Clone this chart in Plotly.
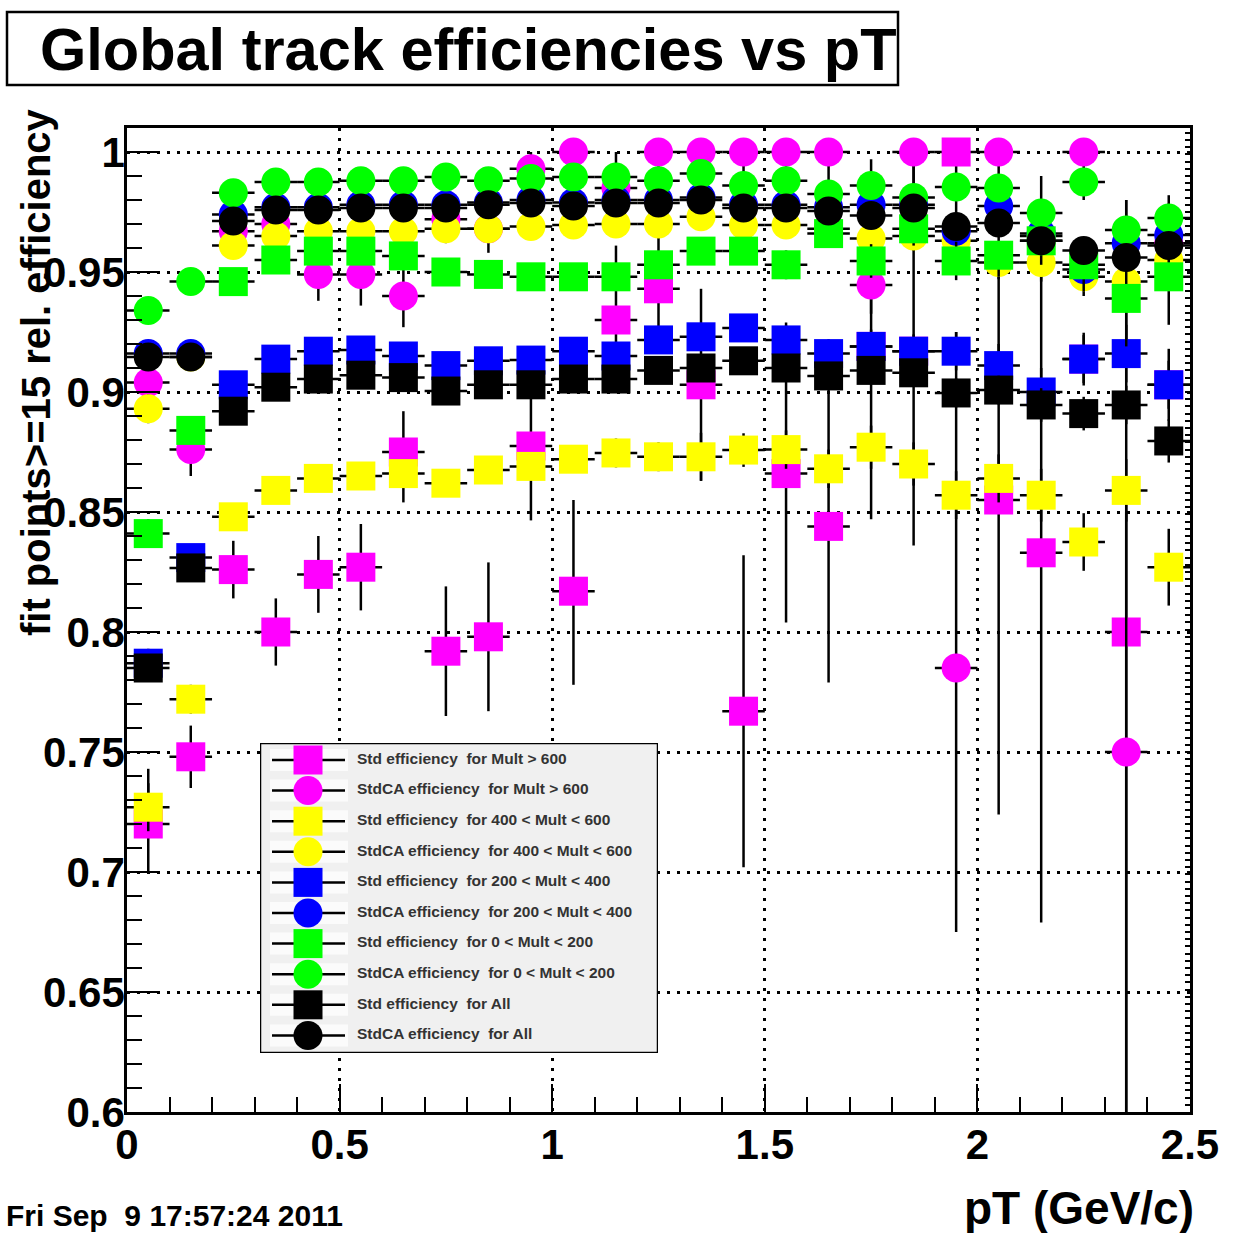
import plotly.graph_objects as go

# ---------------- data ----------------
pt = [0.05, 0.15, 0.25, 0.35, 0.45, 0.55, 0.65, 0.75, 0.85, 0.95, 1.05, 1.15, 1.25,
      1.35, 1.45, 1.55, 1.65, 1.75, 1.85, 1.95, 2.05, 2.15, 2.25, 2.35, 2.45]
pt_halfwidth = 0.05

labels = [
    "Std efficiency\u00a0 for Mult &gt; 600",
    "StdCA efficiency\u00a0 for Mult &gt; 600",
    "Std efficiency\u00a0 for 400 &lt; Mult &lt; 600",
    "StdCA efficiency\u00a0 for 400 &lt; Mult &lt; 600",
    "Std efficiency\u00a0 for 200 &lt; Mult &lt; 400",
    "StdCA efficiency\u00a0 for 200 &lt; Mult &lt; 400",
    "Std efficiency\u00a0 for 0 &lt; Mult &lt; 200",
    "StdCA efficiency\u00a0 for 0 &lt; Mult &lt; 200",
    "Std efficiency\u00a0 for All",
    "StdCA efficiency\u00a0 for All",
]

std_mult600 = [0.720, 0.748, 0.826, 0.800, 0.824, 0.827, 0.875, 0.792, 0.798, 0.8775, 0.817, 0.930, 0.943,
               0.903, 0.767, 0.866, 0.844, 0.919, 0.917, 1.000, 0.855, 0.833, 0.9137, 0.800, 0.903]
std_mult600_up = [0.023, 0.013, 0.012, 0.014, 0.016, 0.018, 0.017, 0.027, 0.031, 0.020, 0.038, 0.031, 0.022,
                  0.040, 0.065, 0.063, 0.069, 0.078, 0.081, 0.000, 0.097, 0.157, 0.010, 0.180, 0.010]
std_mult600_dn = [0.020, 0.013, 0.012, 0.014, 0.016, 0.018, 0.021, 0.027, 0.031, 0.031, 0.039, 0.025, 0.022,
                  0.040, 0.065, 0.062, 0.065, 0.072, 0.081, 0.030, 0.131, 0.154, 0.010, 0.200, 0.010]

ca_mult600 = [0.904, 0.876, 0.967, 0.970, 0.949, 0.949, 0.940, 0.972, 0.968, 0.993, 1.000, 0.985, 1.000,
              1.000, 1.000, 1.000, 1.000, 0.9446, 1.000, 0.785, 1.000, 0.965, 1.000, 0.750, 0.962]
ca_mult600_up = [0.006, 0.011, 0.010, 0.010, 0.011, 0.013, 0.013, 0.010, 0.010, 0.007, 0.000, 0.015, 0.000,
                 0.000, 0.000, 0.000, 0.000, 0.012, 0.000, 0.140, 0.000, 0.015, 0.000, 0.100, 0.015]
ca_mult600_dn = [0.006, 0.011, 0.010, 0.010, 0.011, 0.013, 0.013, 0.010, 0.010, 0.010, 0.012, 0.015, 0.012,
                 0.012, 0.012, 0.012, 0.012, 0.012, 0.015, 0.110, 0.020, 0.015, 0.020, 0.160, 0.015]

std_mult400 = [0.727, 0.772, 0.848, 0.859, 0.864, 0.865, 0.866, 0.862, 0.8675, 0.869, 0.872, 0.8746, 0.873,
               0.873, 0.8758, 0.876, 0.868, 0.877, 0.870, 0.857, 0.864, 0.857, 0.8375, 0.859, 0.827]
std_mult400_err = [0.010, 0.006, 0.005, 0.004, 0.004, 0.004, 0.004, 0.005, 0.005, 0.005, 0.005, 0.006, 0.006,
                   0.010, 0.007, 0.008, 0.008, 0.009, 0.009, 0.010, 0.010, 0.011, 0.012, 0.013, 0.016]

ca_mult400 = [0.893, 0.9146, 0.961, 0.965, 0.967, 0.967, 0.967, 0.968, 0.968, 0.969, 0.9696, 0.970, 0.970,
              0.973, 0.9696, 0.9696, 0.968, 0.964, 0.965, 0.963, 0.954, 0.954, 0.948, 0.946, 0.955]
ca_mult400_err = [0.006, 0.004, 0.003, 0.003, 0.003, 0.003, 0.003, 0.003, 0.003, 0.003, 0.003, 0.003, 0.004,
                  0.004, 0.004, 0.005, 0.005, 0.006, 0.006, 0.007, 0.007, 0.008, 0.008, 0.009, 0.010]

std_mult200 = [0.787, 0.831, 0.903, 0.9137, 0.917, 0.9175, 0.915, 0.911, 0.913, 0.9133, 0.917, 0.915, 0.9217,
               0.923, 0.9267, 0.9217, 0.916, 0.919, 0.917, 0.917, 0.911, 0.900, 0.9137, 0.916, 0.903]
std_mult200_err = [0.006, 0.004, 0.003, 0.003, 0.003, 0.003, 0.003, 0.003, 0.003, 0.003, 0.004, 0.004, 0.004,
                   0.005, 0.005, 0.006, 0.006, 0.007, 0.007, 0.008, 0.009, 0.010, 0.011, 0.012, 0.015]

ca_mult200 = [0.916, 0.916, 0.974, 0.977, 0.977, 0.978, 0.978, 0.978, 0.979, 0.980, 0.979, 0.980, 0.980,
              0.981, 0.978, 0.978, 0.977, 0.978, 0.978, 0.967, 0.9775, 0.966, 0.951, 0.962, 0.9654]
ca_mult200_err = [0.004, 0.003, 0.002, 0.002, 0.002, 0.002, 0.002, 0.002, 0.002, 0.002, 0.002, 0.002, 0.002,
                  0.003, 0.003, 0.003, 0.003, 0.004, 0.004, 0.004, 0.005, 0.005, 0.006, 0.006, 0.007]

std_mult0 = [0.841, 0.884, 0.946, 0.955, 0.9587, 0.9587, 0.9567, 0.950, 0.949, 0.948, 0.948, 0.948, 0.953,
             0.9587, 0.9587, 0.953, 0.966, 0.9546, 0.968, 0.9546, 0.957, 0.963, 0.953, 0.939, 0.948]
std_mult0_up = [0.006, 0.004, 0.003, 0.003, 0.003, 0.003, 0.003, 0.003, 0.003, 0.003, 0.004, 0.004, 0.004,
                0.005, 0.005, 0.006, 0.006, 0.007, 0.007, 0.008, 0.009, 0.010, 0.011, 0.041, 0.034]
std_mult0_dn = [0.006, 0.004, 0.003, 0.003, 0.003, 0.003, 0.003, 0.003, 0.003, 0.003, 0.004, 0.004, 0.004,
                0.005, 0.005, 0.006, 0.006, 0.007, 0.007, 0.008, 0.009, 0.010, 0.011, 0.020, 0.020]

ca_mult0 = [0.934, 0.946, 0.983, 0.9875, 0.9875, 0.988, 0.988, 0.9896, 0.988, 0.989, 0.9896, 0.9896, 0.988,
            0.991, 0.986, 0.988, 0.9825, 0.986, 0.981, 0.9854, 0.985, 0.9746, 0.9875, 0.9675, 0.9725]
ca_mult0_err = [0.004, 0.003, 0.002, 0.002, 0.002, 0.002, 0.002, 0.002, 0.002, 0.002, 0.002, 0.002, 0.002,
                0.002, 0.003, 0.003, 0.003, 0.003, 0.004, 0.004, 0.004, 0.005, 0.005, 0.006, 0.006]

std_all = [0.785, 0.8267, 0.892, 0.902, 0.9054, 0.907, 0.906, 0.9004, 0.903, 0.903, 0.9054, 0.9054, 0.909,
           0.910, 0.913, 0.910, 0.9067, 0.909, 0.908, 0.8996, 0.9008, 0.8946, 0.891, 0.8946, 0.8796]
std_all_err = [0.005, 0.003, 0.002, 0.002, 0.002, 0.002, 0.002, 0.002, 0.002, 0.002, 0.003, 0.003, 0.003,
               0.003, 0.004, 0.004, 0.004, 0.005, 0.005, 0.006, 0.006, 0.007, 0.007, 0.008, 0.009]

ca_all = [0.9146, 0.9146, 0.9712, 0.9758, 0.9758, 0.9767, 0.9767, 0.9767, 0.978, 0.9787, 0.9775, 0.9787, 0.9787,
          0.980, 0.9767, 0.9767, 0.9754, 0.9735, 0.9767, 0.969, 0.9704, 0.963, 0.959, 0.956, 0.961]
ca_all_err = [0.003, 0.002, 0.002, 0.002, 0.002, 0.002, 0.002, 0.002, 0.002, 0.002, 0.002, 0.002, 0.002,
              0.002, 0.002, 0.002, 0.002, 0.003, 0.003, 0.003, 0.003, 0.004, 0.004, 0.004, 0.005]

series = [
    (std_mult600, std_mult600_up, std_mult600_dn, "#ff00ff", "square"),
    (ca_mult600, ca_mult600_up, ca_mult600_dn, "#ff00ff", "circle"),
    (std_mult400, std_mult400_err, std_mult400_err, "#ffff00", "square"),
    (ca_mult400, ca_mult400_err, ca_mult400_err, "#ffff00", "circle"),
    (std_mult200, std_mult200_err, std_mult200_err, "#0000ff", "square"),
    (ca_mult200, ca_mult200_err, ca_mult200_err, "#0000ff", "circle"),
    (std_mult0, std_mult0_up, std_mult0_dn, "#00ff00", "square"),
    (ca_mult0, ca_mult0_err, ca_mult0_err, "#00ff00", "circle"),
    (std_all, std_all_err, std_all_err, "#000000", "square"),
    (ca_all, ca_all_err, ca_all_err, "#000000", "circle"),
]

# ---------------- figure ----------------
W, H = 1247, 1233
ML, MR, MT, MB = 127, 57, 128, 121
PW, PH = W - ML - MR, H - MT - MB


def px_x(p):
    return (p - ML) / PW


def px_y(p):
    return (H - MB - p) / PH


fig = go.Figure()

for (vals, up, dn, col, sym), name in zip(series, labels):
    fig.add_trace(go.Scatter(
        x=pt, y=vals, mode="markers", name=name, showlegend=False,
        marker=dict(symbol=sym, size=29, color=col, line=dict(width=0)),
        error_y=dict(type="data", symmetric=False, array=up, arrayminus=dn,
                     color="black", thickness=2.5, width=0),
        error_x=dict(type="constant", value=pt_halfwidth, color="black", thickness=2.5, width=0),
        cliponaxis=True,
    ))

# invisible carrier trace for the right-side tick axis
fig.add_trace(go.Scatter(x=[1.0], y=[0.5], yaxis="y3", mode="markers",
                         marker=dict(opacity=0), showlegend=False, hoverinfo="skip"))

# ---------------- legend box (inset axes in pixel units) ----------------
LX0, LX1, LY0, LY1 = 260, 658, 743, 1053
LW, LH = LX1 - LX0, LY1 - LY0
fig.add_trace(go.Scatter(
    x=[0, LW, LW, 0, 0], y=[0, 0, LH, LH, 0], mode="lines", fill="toself",
    fillcolor="#f0f0f0", line=dict(color="black", width=2.5),
    xaxis="x2", yaxis="y2", showlegend=False, hoverinfo="skip"))

row_y = [17 + i * 30.6 for i in range(len(labels))]
for ry in row_y:
    fig.add_trace(go.Scatter(
        x=[10, 88, 88, 10, 10], y=[ry - 11, ry - 11, ry + 11, ry + 11, ry - 11],
        mode="lines", fill="toself", fillcolor="#fbfbfb", line=dict(width=0),
        xaxis="x2", yaxis="y2", showlegend=False, hoverinfo="skip"))
lx, ly = [], []
for ry in row_y:
    lx += [12, 85, None]
    ly += [ry, ry, None]
fig.add_trace(go.Scatter(x=lx, y=ly, mode="lines", line=dict(color="black", width=2.5),
                         xaxis="x2", yaxis="y2", showlegend=False, hoverinfo="skip"))
for (vals, up, dn, col, sym), ry in zip(series, row_y):
    fig.add_trace(go.Scatter(x=[48], y=[ry], mode="markers",
                             marker=dict(symbol=sym, size=29, color=col, line=dict(width=0)),
                             xaxis="x2", yaxis="y2", showlegend=False, hoverinfo="skip"))
fig.add_trace(go.Scatter(x=[97] * len(labels), y=row_y, mode="text", text=labels,
                         textposition="middle right",
                         textfont=dict(family="Liberation Sans", size=15.5, color="#333333", weight="bold"),
                         xaxis="x2", yaxis="y2", showlegend=False, hoverinfo="skip"))

tickfont = dict(family="Liberation Sans", size=42, color="black", weight="bold")

fig.update_layout(
    width=W, height=H,
    margin=dict(l=ML, r=MR, t=MT, b=MB, pad=0),
    paper_bgcolor="white", plot_bgcolor="white",
    showlegend=False,
    xaxis=dict(
        range=[0, 2.5], dtick=0.5, tick0=0,
        ticks="inside", ticklen=28, tickwidth=2, tickcolor="black",
        minor=dict(dtick=0.1, ticks="inside", ticklen=15, tickwidth=2, tickcolor="black", showgrid=False),
        showgrid=True, gridcolor="black", gridwidth=2.5, griddash="2.5px,7.5px",
        showline=True, linecolor="black", linewidth=2.5, mirror=True,
        zeroline=False, tickfont=tickfont, ticklabelstandoff=-6,
    ),
    yaxis=dict(
        range=[0.6, 1.01], dtick=0.05, tick0=0.6,
        ticks="inside", ticklen=33, tickwidth=2, tickcolor="black",
        minor=dict(dtick=0.01, ticks="inside", ticklen=15, tickwidth=2, tickcolor="black", showgrid=False),
        showgrid=True, gridcolor="black", gridwidth=2.5, griddash="2.5px,7.5px",
        showline=True, linecolor="black", linewidth=2.5, mirror=True,
        zeroline=False, tickfont=tickfont, ticklabelstandoff=-9,
    ),
    yaxis3=dict(
        overlaying="y", side="right", anchor="x", range=[0.6, 1.01], tick0=0.6, dtick=0.003,
        ticks="inside", ticklen=5, tickwidth=1.5, tickcolor="black",
        showticklabels=False, showgrid=False, showline=False, zeroline=False,
    ),
    xaxis2=dict(domain=[px_x(LX0), px_x(LX1)], anchor="y2", range=[0, LW], visible=False, fixedrange=True),
    yaxis2=dict(domain=[px_y(LY1), px_y(LY0)], anchor="x2", range=[LH, 0], visible=False, fixedrange=True),
)

# title box
fig.add_shape(type="rect", xref="paper", yref="paper",
              x0=px_x(7), x1=px_x(898), y0=px_y(85), y1=px_y(12),
              line=dict(color="black", width=2.5), fillcolor="white", layer="above")
fig.add_annotation(text="Global track efficiencies vs pT", xref="paper", yref="paper",
                   x=px_x(38), y=px_y(50), xanchor="left", yanchor="middle", showarrow=False,
                   font=dict(family="Liberation Sans", size=59.5, color="black", weight="bold"))

# y-axis title
fig.add_annotation(text="fit points&gt;=15 rel. efficiency", xref="paper", yref="paper",
                   x=px_x(36), y=px_y(372), xanchor="center", yanchor="middle", textangle=-90,
                   showarrow=False,
                   font=dict(family="Liberation Sans", size=40, color="black", weight="bold"))

# x-axis title
fig.add_annotation(text="pT (GeV/c)", xref="paper", yref="paper",
                   x=px_x(1196), y=px_y(1208), xanchor="right", yanchor="middle", showarrow=False,
                   font=dict(family="Liberation Sans", size=46, color="black", weight="bold"))

# date stamp
fig.add_annotation(text="Fri Sep \u00a09 17:57:24 2011", xref="paper", yref="paper",
                   x=px_x(4), y=px_y(1215), xanchor="left", yanchor="middle", showarrow=False,
                   font=dict(family="Liberation Sans", size=30, color="black", weight="bold"))

fig.write_html("out.html")
